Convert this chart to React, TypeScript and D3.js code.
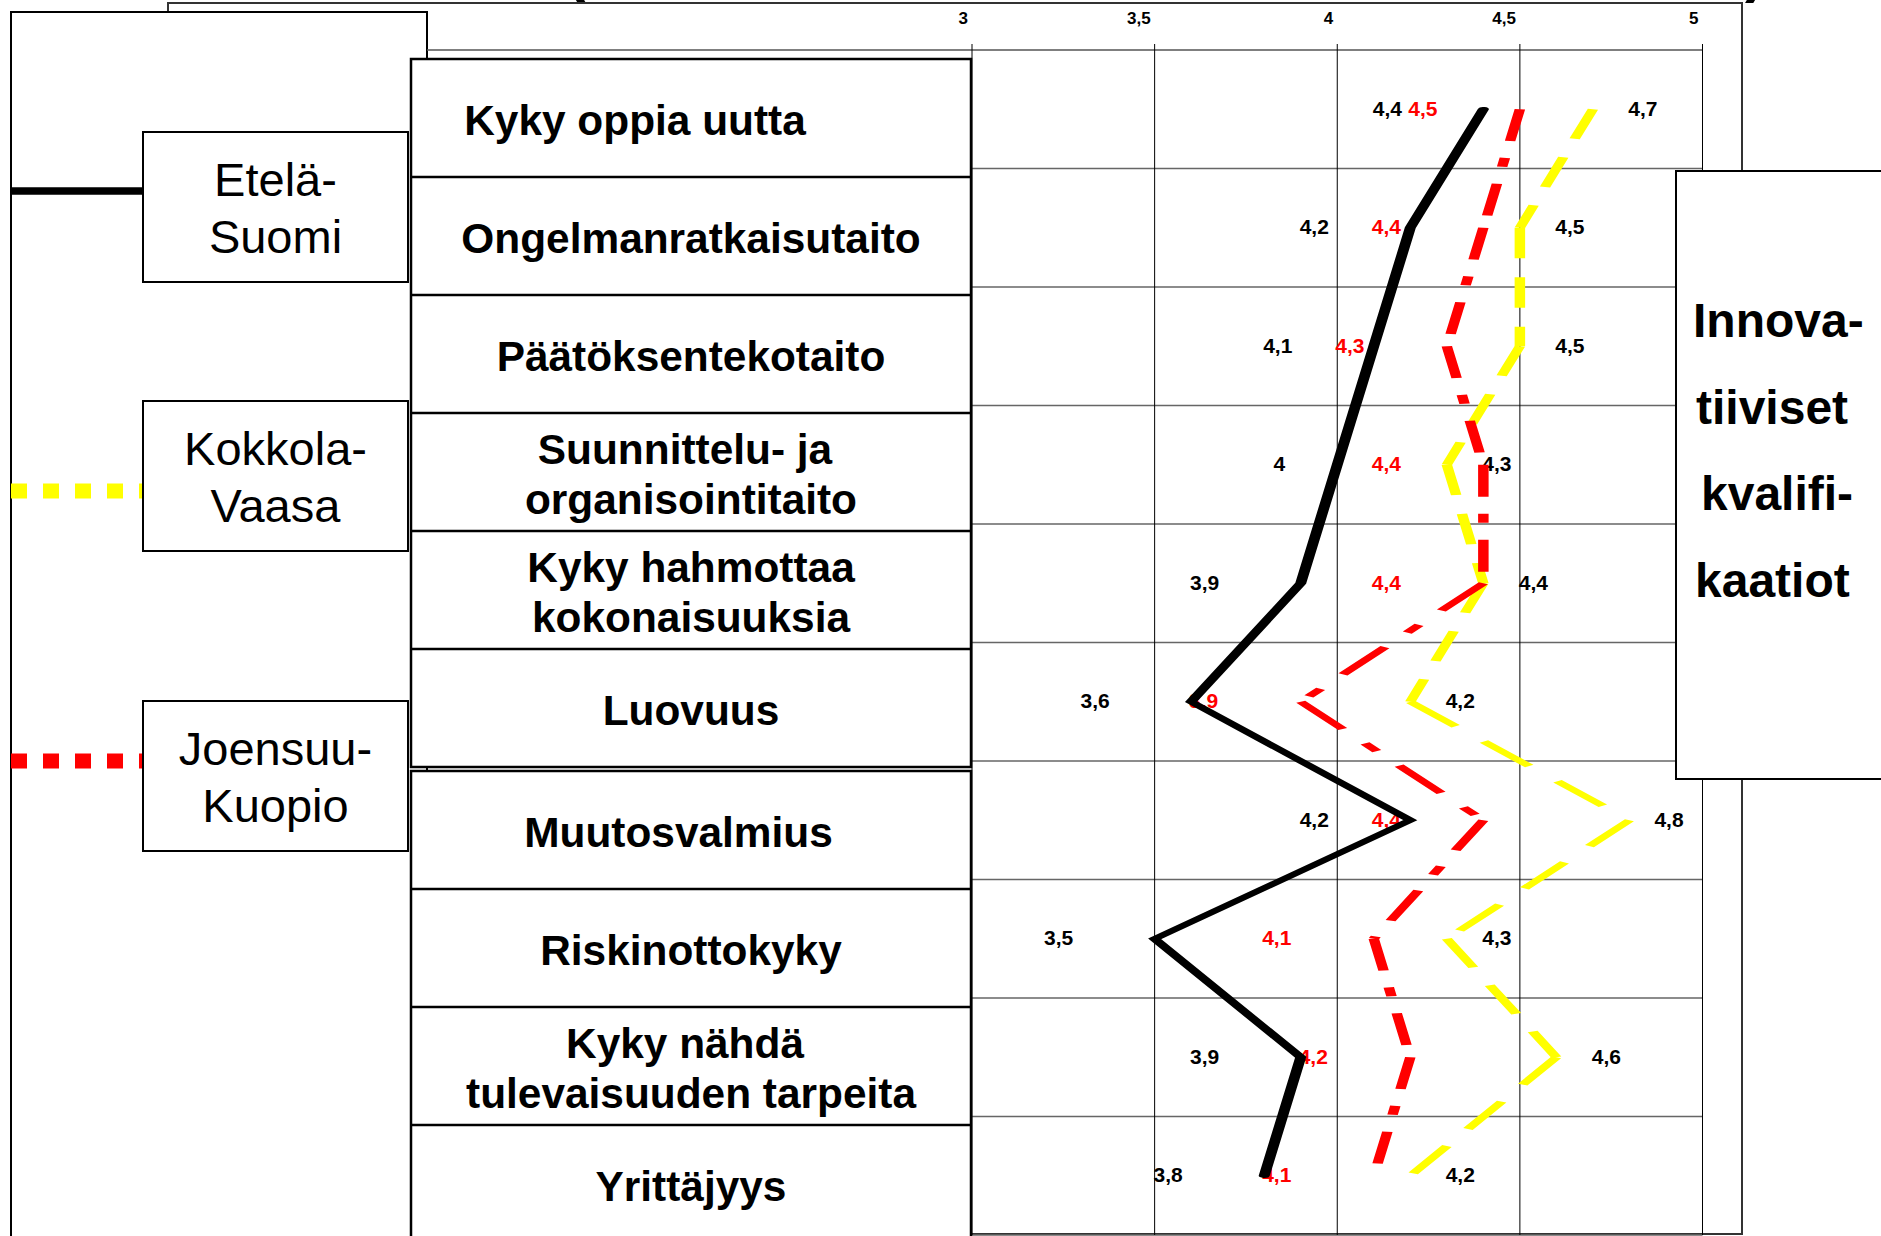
import React from "react";
import * as d3 from "d3";

// ---------- data ----------
const categories: string[] = [
  "Kyky oppia uutta",
  "Ongelmanratkaisutaito",
  "Päätöksentekotaito",
  "Suunnittelu- ja\norganisointitaito",
  "Kyky hahmottaa\nkokonaisuuksia",
  "Luovuus",
  "Muutosvalmius",
  "Riskinottokyky",
  "Kyky nähdä\ntulevaisuuden tarpeita",
  "Yrittäjyys",
];
const etelaSuomi: number[] = [4.4, 4.2, 4.1, 4, 3.9, 3.6, 4.2, 3.5, 3.9, 3.8];
const kokkolaVaasa: number[] = [4.7, 4.5, 4.5, 4.3, 4.4, 4.2, 4.8, 4.3, 4.6, 4.2];
const joensuuKuopio: number[] = [4.5, 4.4, 4.3, 4.4, 4.4, 3.9, 4.4, 4.1, 4.2, 4.1];
const xTicks: number[] = [3, 3.5, 4, 4.5, 5];
const seriesNames: string[] = ["Etelä-\nSuomi", "Kokkola-\nVaasa", "Joensuu-\nKuopio"];
const sideTitle: string[] = ["Innova-", "tiiviset", "kvalifi-", "kaatiot"];
const titleFragments: string[] = ["(", ")"];

// ---------- layout ----------
const W = 1881;
const H = 1236;
const PL = 972;
const PR = 1702.5;
const PT = 50;
const PB = 1235;
const K = 2.5; // horizontal stretch of the line layer
const FONT = "'Liberation Sans', Arial, Helvetica, sans-serif";

const catLineShift: number[][] = [[-56], [0], [0], [-6, 0], [0, 0], [0], [-12.5], [0], [-6, 0], [0]];
const etelaLabelNudge: number[] = [0, 0, 0, 38, 0, 0, 0, 0, 0, 0];
const legendBoxTop: number[] = [132, 401, 701];
const legendLineY: number[] = [191, 491, 761];
const sideIndent: number[] = [0, 3, 8, 2];

const fmt = (v: number) => String(v).replace(".", ",");

export default function App() {
  const x = d3.scaleLinear().domain([3, 5]).range([PL, PR]);
  const y = d3
    .scaleBand<number>()
    .domain(d3.range(categories.length))
    .range([PT, PB])
    .paddingInner(0)
    .paddingOuter(0);
  const bw = y.bandwidth();
  const rowC = (i: number) => (y(i) as number) + bw / 2;

  const catTop = (i: number) => 59 + 118 * i + (i >= 6 ? 4 : 0);
  const catH = 118;

  const toG = (px: number, py: number): [number, number] => [(px - PL) / K, py];
  const pts = (arr: number[]) => arr.map((v, i) => toG(x(v), rowC(i)));
  const line = d3.line<[number, number]>();

  const series = [
    { name: "etela", data: etelaSuomi, color: "#000000", width: 4.4, dash: null as string | null },
    { name: "kokkola", data: kokkolaVaasa, color: "#FFFF00", width: 4.2, dash: "30.5 19" },
    { name: "joensuu", data: joensuuKuopio, color: "#FF0000", width: 4.2, dash: "32 17 9 17" },
  ];

  const legendStyles = [
    { color: "#000000", width: 7.5, dash: null as string | null },
    { color: "#FFFF00", width: 15, dash: "16 16" },
    { color: "#FF0000", width: 15, dash: "16 16" },
  ];

  return (
    <svg
      width={W}
      height={H}
      viewBox={`0 0 ${W} ${H}`}
      style={{ position: "absolute", left: 0, top: 0, background: "#ffffff", overflow: "hidden" }}
      fontFamily={FONT}
    >
      <rect x={0} y={0} width={W} height={H} fill="#ffffff" />

      {/* cut-off title fragments (the reference title lies above the picture) */}
      <text x={566} y={-9} fontSize={60} fontWeight="bold" fill="#000">{titleFragments[0]}</text>
      <text x={1745} y={-9} fontSize={60} fontWeight="bold" fill="#000">{titleFragments[1]}</text>

      {/* background frame */}
      <rect x={168} y={3} width={1742 - 168} height={1234 - 3} fill="#ffffff" stroke="#333333" strokeWidth={2} />

      {/* left outer box */}
      <rect x={11} y={12} width={427 - 11} height={1260} fill="#ffffff" stroke="#000000" strokeWidth={2} />

      {/* plot top line */}
      <line x1={427} x2={PR} y1={PT} y2={PT} stroke="#555555" strokeWidth={1.6} />
      {/* horizontal gridlines */}
      {d3.range(1, categories.length + 1).map((i) => {
        const yy = i === categories.length ? PB : (y(i) as number);
        return <line key={"h" + i} x1={PL} x2={PR} y1={yy} y2={yy} stroke="#666666" strokeWidth={1.6} />;
      })}
      {/* vertical gridlines */}
      {xTicks.map((t) => (
        <line key={"v" + t} x1={x(t)} x2={x(t)} y1={PT - 6} y2={PB} stroke="#000000" strokeWidth={1} />
      ))}
      {/* tick labels */}
      {xTicks.map((t) => (
        <text key={"t" + t} x={x(t) - 4} y={24} textAnchor="end" fontSize={17} fontWeight="bold" fill="#000">
          {fmt(t)}
        </text>
      ))}

      {/* category boxes */}
      <rect x={411} y={catTop(0)} width={971 - 411} height={catH * 6} fill="#ffffff" stroke="#000" strokeWidth={2.5} />
      <rect x={411} y={catTop(6)} width={971 - 411} height={catH * 4} fill="#ffffff" stroke="#000" strokeWidth={2.5} />
      {categories.map((c, i) =>
        i === 0 || i === 6 ? null : (
          <line key={"cl" + i} x1={411} x2={971} y1={catTop(i)} y2={catTop(i)} stroke="#000" strokeWidth={2.5} />
        )
      )}
      {categories.map((c, i) => {
        const lines = c.split("\n");
        const cy = catTop(i) + catH / 2 + 16.5;
        return (
          <text key={"ct" + i} textAnchor="middle" fontSize={42.4} fontWeight="bold" fill="#000">
            {lines.map((ln, j) => (
              <tspan
                key={j}
                x={691 + (catLineShift[i][j] || 0)}
                y={cy + (lines.length === 2 ? (j === 0 ? -25 : 25) : 0)}
              >
                {ln}
              </tspan>
            ))}
          </text>
        );
      })}

      {/* legend */}
      {seriesNames.map((n, i) => {
        const st = legendStyles[i];
        const top = legendBoxTop[i];
        const lines = n.split("\n");
        return (
          <g key={"lg" + i}>
            <line
              x1={11}
              x2={143}
              y1={legendLineY[i]}
              y2={legendLineY[i]}
              stroke={st.color}
              strokeWidth={st.width}
              strokeDasharray={st.dash || undefined}
            />
            <rect x={143} y={top} width={408 - 143} height={150} fill="#ffffff" stroke="#000" strokeWidth={2} />
            <text textAnchor="middle" fontSize={47} fill="#000">
              {lines.map((ln, j) => (
                <tspan key={j} x={275.5} y={top + 63.5 + j * 57.5}>
                  {ln}
                </tspan>
              ))}
            </text>
          </g>
        );
      })}

      {/* data labels */}
      {etelaSuomi.map((v, i) => (
        <text key={"le" + i} x={x(v) - 96 + etelaLabelNudge[i]} y={rowC(i) + 6.5} textAnchor="middle" fontSize={21} fontWeight="bold" fill="#000">
          {fmt(v)}
        </text>
      ))}
      {joensuuKuopio.map((v, i) => (
        <text key={"lj" + i} x={x(v) - 97} y={rowC(i) + 6.5} textAnchor="middle" fontSize={21} fontWeight="bold" fill="#FF0000">
          {fmt(v)}
        </text>
      ))}
      {kokkolaVaasa.map((v, i) => (
        <text key={"lk" + i} x={Math.min(x(v) + 50, 1669)} y={rowC(i) + 6.5} textAnchor="middle" fontSize={21} fontWeight="bold" fill="#000">
          {fmt(v)}
        </text>
      ))}

      {/* series lines (drawn in a horizontally stretched layer) */}
      <g transform={`translate(${PL},0) scale(${K},1)`}>
        {series.map((s) => {
          const p = pts(s.data);
          if (!s.dash) {
            return (
              <path
                key={s.name}
                d={line(p) || ""}
                fill="none"
                stroke={s.color}
                strokeWidth={s.width}
                strokeLinejoin="miter"
                strokeMiterlimit={12}
                strokeLinecap="round"
              />
            );
          }
          return (
            <g key={s.name}>
              {p.slice(0, -1).map((a, i) => (
                <path
                  key={i}
                  d={line([a, p[i + 1]]) || ""}
                  fill="none"
                  stroke={s.color}
                  strokeWidth={s.width}
                  strokeDasharray={s.dash as string}
                  strokeLinecap="butt"
                />
              ))}
            </g>
          );
        })}
      </g>

      {/* right side title box */}
      <rect x={1676} y={171} width={260} height={779 - 171} fill="#ffffff" stroke="#000" strokeWidth={2} />
      {sideTitle.map((t, i) => (
        <text key={"st" + i} x={1693 + sideIndent[i]} y={337 + 86.5 * i} fontSize={48} fontWeight="bold" fill="#000">
          {t}
        </text>
      ))}
    </svg>
  );
}
